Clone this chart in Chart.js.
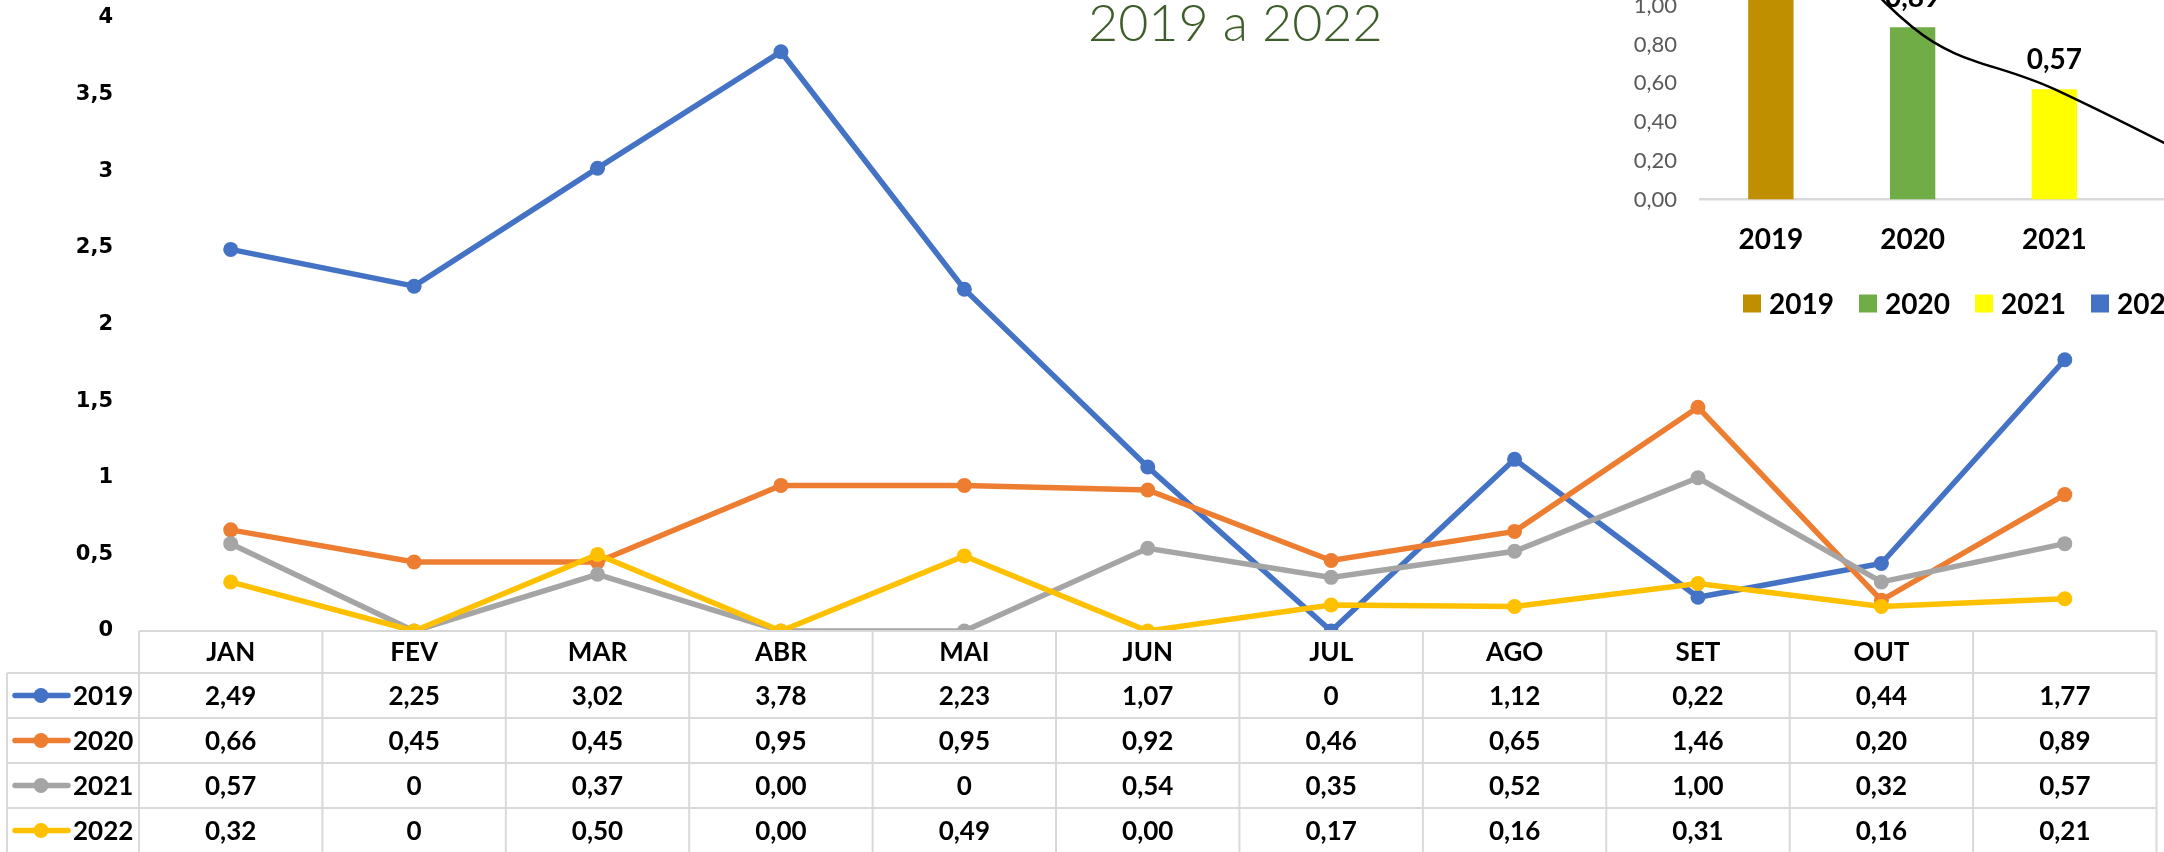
<!DOCTYPE html>
<html>
<head>
<meta charset="utf-8">
<script src="https://cdn.jsdelivr.net/npm/chart.js@4.4.1/dist/chart.umd.min.js"></script>
<style>
  html, body { margin: 0; padding: 0; background: #fff; overflow: hidden; }
  #wrap { position: relative; width: 2164px; height: 852px; overflow: hidden; background: #fff; }
  #main { position: absolute; left: 0; top: 0; }
  #inset { position: absolute; left: 1560px; top: -220px; }
  #title { position: absolute; left: 1088px; top: -9px; font-family: Lato, sans-serif; font-weight: 300;
           font-size: 52px; line-height: 60px; color: #3d5e2a; white-space: nowrap; }
</style>
</head>
<body>
<div id="wrap">
  <canvas id="main" width="2164" height="852"></canvas>
  <div id="title">2019 a 2022</div>
  <canvas id="inset" width="720" height="560"></canvas>
</div>
<script>
// ---------- data ----------
const months = ['JAN', 'FEV', 'MAR', 'ABR', 'MAI', 'JUN', 'JUL', 'AGO', 'SET', 'OUT', ''];
const seriesNames = ['2019', '2020', '2021', '2022'];
const values2019 = [2.49, 2.25, 3.02, 3.78, 2.23, 1.07, 0, 1.12, 0.22, 0.44, 1.77];
const values2020 = [0.66, 0.45, 0.45, 0.95, 0.95, 0.92, 0.46, 0.65, 1.46, 0.20, 0.89];
const values2021 = [0.57, 0, 0.37, 0, 0, 0.54, 0.35, 0.52, 1.00, 0.32, 0.57];
const values2022 = [0.32, 0, 0.50, 0, 0.49, 0, 0.17, 0.16, 0.31, 0.16, 0.21];
// table cells where the zero is printed as a bare "0" (index per series)
const bareZeroCells = { '2019': [6], '2020': [], '2021': [1, 4], '2022': [1] };
const yMin = 0, yMax = 4, yStep = 0.5;

const insetYears = ['2019', '2020', '2021', '2022'];
const insetValues = [1.77, 0.89, 0.57, 0.21];
const insetMin = 0, insetMax = 2, insetStep = 0.2;

// ---------- styles ----------
const seriesColors = ['#4472C4', '#ED7D31', '#A5A5A5', '#FFC000'];
const insetColors = ['#BF8F00', '#70AD47', '#FFFF00', '#4472C4'];
const allValues = [values2019, values2020, values2021, values2022];
const comma = s => String(s).replace('.', ',');

function cellText(seriesIdx, i) {
  const v = allValues[seriesIdx][i];
  if (bareZeroCells[seriesNames[seriesIdx]].includes(i)) return '0';
  return comma(v.toFixed(2));
}
function noScalePadding(s) { s.paddingTop = 0; s.paddingBottom = 0; s.paddingLeft = 0; s.paddingRight = 0; }

const tablePlugin = {
  id: 'dataTable',
  afterDraw(chart) {
    const { ctx, chartArea: ca, scales: { x } } = chart;
    const n = months.length;
    const colW = (ca.right - ca.left) / n;
    const top = ca.bottom;
    const headerH = 42, rowH = 45;
    const legendLeft = 7;
    const bottom = top + headerH + rowH * seriesNames.length;
    ctx.save();
    ctx.strokeStyle = '#d9d9d9';
    ctx.lineWidth = 2;
    ctx.beginPath();
    ctx.moveTo(ca.left, top); ctx.lineTo(ca.right, top);
    for (let r = 0; r <= seriesNames.length; r++) {
      const y = top + headerH + r * rowH;
      ctx.moveTo(legendLeft, y); ctx.lineTo(ca.right, y);
    }
    for (let k = 0; k <= n; k++) {
      const xx = ca.left + k * colW;
      ctx.moveTo(xx, top); ctx.lineTo(xx, bottom);
    }
    ctx.moveTo(legendLeft, top + headerH); ctx.lineTo(legendLeft, bottom);
    ctx.stroke();

    ctx.fillStyle = '#000';
    ctx.font = 'bold 26px Lato, sans-serif';
    ctx.textAlign = 'center';
    ctx.textBaseline = 'middle';
    months.forEach((m, i) => ctx.fillText(m, x.getPixelForValue(i), top + headerH / 2 + 1));
    seriesNames.forEach((name, s) => {
      const cy = top + headerH + s * rowH + rowH / 2 + 1;
      ctx.textAlign = 'center';
      ctx.fillStyle = '#000';
      months.forEach((m, i) => ctx.fillText(cellText(s, i), x.getPixelForValue(i), cy));
      // legend key
      ctx.strokeStyle = seriesColors[s];
      ctx.lineWidth = 5.5;
      ctx.lineCap = 'round';
      ctx.beginPath(); ctx.moveTo(15, cy - 1); ctx.lineTo(68, cy - 1); ctx.stroke();
      ctx.fillStyle = seriesColors[s];
      ctx.beginPath(); ctx.arc(41, cy - 1, 7.5, 0, Math.PI * 2); ctx.fill();
      ctx.fillStyle = '#000';
      ctx.textAlign = 'left';
      ctx.fillText(name, 73, cy);
    });
    ctx.restore();
  }
};

new Chart(document.getElementById('main'), {
  type: 'line',
  data: {
    labels: months,
    datasets: seriesNames.map((name, i) => ({
      label: name,
      data: allValues[i],
      borderColor: seriesColors[i],
      backgroundColor: seriesColors[i],
      borderWidth: 5.5,
      pointRadius: 7.5,
      pointHoverRadius: 7.5,
      pointBorderWidth: 0,
      tension: 0
    })).reverse()
  },
  options: {
    responsive: false,
    animation: false,
    events: [],
    layout: { padding: { top: 18, bottom: 221, right: 5, left: 0 } },
    plugins: { legend: { display: false }, tooltip: { enabled: false } },
    scales: {
      x: { display: false, offset: true },
      y: {
        min: yMin, max: yMax,
        afterFit(s) { s.width = 139; noScalePadding(s); },
        grid: { display: false, drawTicks: false },
        border: { display: false },
        ticks: {
          stepSize: yStep, padding: 26, color: '#000',
          font: { family: "'DejaVu Sans', Verdana, sans-serif", weight: 'bold', size: 21 },
          callback: v => comma(v)
        }
      }
    }
  },
  plugins: [tablePlugin]
});

// ---------- inset bar chart ----------
const insetPlugin = {
  id: 'insetExtras',
  afterDatasetsDraw(chart) {
    const { ctx } = chart;
    const meta = chart.getDatasetMeta(0);
    ctx.save();
    ctx.fillStyle = '#000';
    ctx.font = 'bold 28px Lato, sans-serif';
    ctx.textAlign = 'center';
    ctx.textBaseline = 'middle';
    meta.data.forEach((bar, i) => ctx.fillText(comma(insetValues[i].toFixed(2)), bar.x, bar.y - 29));
    ctx.restore();
  },
  afterDraw(chart) {
    const { ctx, chartArea: ca } = chart;
    ctx.save();
    ctx.font = 'bold 28px Lato, sans-serif';
    ctx.textBaseline = 'middle';
    ctx.textAlign = 'left';
    const y = ca.bottom + 104;
    insetYears.forEach((yr, i) => {
      const x0 = ca.left + 43 + i * 116;
      ctx.fillStyle = insetColors[i];
      ctx.fillRect(x0, y - 9, 18, 18);
      ctx.fillStyle = '#000';
      ctx.fillText(yr, x0 + 26, y + 1);
    });
    ctx.restore();
  }
};

new Chart(document.getElementById('inset'), {
  type: 'bar',
  data: {
    labels: insetYears,
    datasets: [
      {
        type: 'bar',
        label: 'Média',
        data: insetValues,
        backgroundColor: insetColors,
        borderWidth: 0,
        barPercentage: 0.32,
        categoryPercentage: 1,
        order: 1
      },
      {
        type: 'line',
        label: 'Tendência',
        data: insetValues,
        borderColor: '#000',
        borderWidth: 2.5,
        pointRadius: 0,
        tension: 0.4,
        fill: false,
        order: 0
      }
    ]
  },
  options: {
    responsive: false,
    animation: false,
    events: [],
    layout: { padding: { top: 32.5, bottom: 0, right: 13, left: 0 } },
    plugins: { legend: { display: false }, tooltip: { enabled: false } },
    scales: {
      x: {
        offset: true,
        afterFit(s) { s.height = 140.5; noScalePadding(s); },
        grid: { display: false, drawTicks: false },
        border: { display: true, color: '#d9d9d9', width: 2.5 },
        ticks: { padding: 24, color: '#000', font: { family: 'Lato', weight: 'bold', size: 28 } }
      },
      y: {
        min: insetMin, max: insetMax,
        afterFit(s) { s.width = 140; noScalePadding(s); },
        grid: { display: false, drawTicks: false },
        border: { display: false },
        ticks: {
          stepSize: insetStep, padding: 23, color: '#595959',
          font: { family: 'Lato', size: 22 },
          callback: v => comma(Number(v).toFixed(2))
        }
      }
    }
  },
  plugins: [insetPlugin]
});
</script>
</body>
</html>
